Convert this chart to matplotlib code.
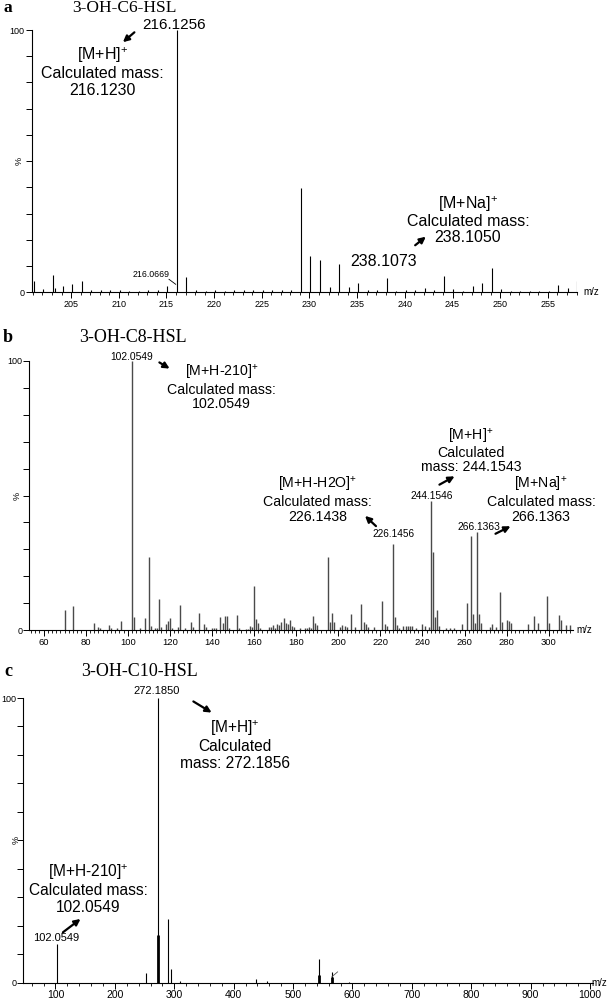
import matplotlib
matplotlib.use("Agg")
import matplotlib.pyplot as plt
from matplotlib.ticker import MultipleLocator, FixedLocator

plt.rcParams['font.family'] = ['Liberation Sans', 'DejaVu Sans']
plt.rcParams['mathtext.fontset'] = 'custom'
plt.rcParams['mathtext.rm'] = 'Liberation Sans'
plt.rcParams['mathtext.it'] = 'Liberation Sans:italic'
plt.rcParams['mathtext.bf'] = 'Liberation Sans:bold'

# ---------------- data ----------------
# Panel a: 3-OH-C6-HSL
a_mz = [201.1, 202.1, 203.1, 203.3, 204.1, 205.1, 206.1, 207.1, 208.1, 209.1, 210.1, 211.1,
        212.1, 213.1, 214.1, 215.1, 216.13, 217.1, 218.1, 219.1, 220.1, 221.1, 222.1, 223.1,
        224.1, 225.1, 226.1, 227.1, 228.1, 229.1, 230.1, 231.1, 232.1, 233.1, 234.1, 235.1,
        236.1, 237.1, 238.1, 239.1, 240.1, 241.1, 242.1, 243.1, 244.1, 245.1, 246.1, 247.1,
        248.1, 249.1, 250.1, 251.1, 252.1, 253.1, 254.1, 255.1, 256.1, 257.1, 258.1]
a_int = [4.1, 1.1, 6.6, 1.5, 2.4, 3.1, 4.1, 0.8, 0.7, 0.8, 0.8, 0.6,
         0.6, 0.8, 0.8, 2.2, 100, 5.7, 0.8, 0.6, 0.8, 0.6, 0.7, 0.8,
         0.8, 0.8, 1.0, 0.7, 0.8, 39.7, 13.7, 12.1, 1.9, 10.7, 1.9, 3.4,
         0.9, 1.0, 5.5, 0.6, 1.0, 0.8, 1.7, 0.8, 6.2, 1.3, 0.6, 2.4,
         3.6, 9.2, 1.3, 0.6, 0.5, 0.6, 0.5, 0.6, 2.7, 1.6, 4.3]

# Panel b: 3-OH-C8-HSL
b_mz = [70, 74, 84, 86, 87, 91, 92, 95, 97, 102.05, 103, 106, 108, 110, 111, 113, 114, 115, 116,
        118, 119, 120, 121, 124, 125, 127, 130, 131, 134, 136, 137, 140, 141, 142, 144, 145,
        146, 147, 148, 152, 153, 156, 157, 158, 159, 160, 161, 162, 163, 167, 168, 169, 170,
        171, 172, 173, 174, 175, 176, 177, 178, 179, 182, 184, 185, 186, 187, 188, 189, 190,
        195, 196, 197, 198, 201, 202, 203, 204, 206, 208, 211, 212, 213, 214, 217, 221, 222,
        223, 226.15, 227, 228, 229, 231, 232, 233, 234, 235, 237, 240, 241, 243, 244.15, 245,
        246, 247, 248, 251, 253, 255, 259, 261, 263, 264, 265, 266.14, 267, 268, 272, 273,
        275, 277, 278, 280, 281, 282, 290, 293, 295, 299, 300, 305, 306, 308, 310]
b_int = [7.4, 8.9, 2.5, 1.0, 0.8, 1.7, 0.9, 0.6, 3.2, 100, 5.0, 0.6, 4.3, 27.3, 1.5, 0.7, 0.7, 11.5, 1.0,
         2.2, 3.5, 4.3, 0.9, 1.2, 9.3, 0.7, 3.1, 1.2, 6.4, 2.2, 1.0, 0.7, 0.7, 0.7, 4.7, 2.7,
         5.2, 5.2, 0.7, 5.6, 0.7, 0.5, 0.5, 1.4, 1.0, 16.5, 4.1, 2.6, 0.7, 1.2, 1.2, 1.7, 0.7,
         2.2, 1.7, 3.1, 4.3, 2.7, 2.1, 3.7, 1.6, 1.1, 0.9, 0.9, 0.8, 1.0, 0.8, 5.3, 2.7, 1.7,
         27.0, 2.8, 6.4, 3.0, 1.2, 1.9, 1.5, 1.2, 5.8, 1.2, 9.7, 3.1, 2.2, 1.2, 1.2, 10.8, 2.2,
         1.5, 32.0, 4.7, 1.9, 0.8, 1.5, 1.5, 1.5, 1.5, 1.5, 0.6, 2.1, 1.5, 1.2, 48.0, 29.1,
         5.0, 7.4, 1.5, 0.7, 0.7, 0.7, 2.2, 10.2, 35.0, 5.9, 2.5, 36.6, 5.8, 2.5, 1.2, 2.2,
         1.2, 14.3, 3.1, 3.7, 3.2, 2.7, 2.2, 5.2, 2.5, 12.6, 2.5, 5.6, 3.7, 1.8, 1.8]

# Panel c: 3-OH-C10-HSL
c_mz = [102.05, 253, 272.19, 289, 294, 310, 438, 456, 543.4, 565.4, 594]
c_int = [13.5, 3.5, 100, 22.5, 4.8, 0.7, 1.4, 0.7, 8.2, 3.8, 0.4]
c_mz_bold = [272.19, 543.4, 565.4]
c_int_bold = [16.8, 2.7, 2.1]

W, H = 614, 999
fig = plt.figure(figsize=(W / 100, H / 100), dpi=100)


def fx(x):
    return x / W


def fy(y):
    return 1 - y / H


def txt(x, y, s, size, **kw):
    kw.setdefault('ha', 'center')
    kw.setdefault('va', 'center')
    kw.setdefault('multialignment', 'center')
    fig.text(fx(x), fy(y), s, fontsize=size, **kw)


def arrow(x0, y0, x1, y1):
    fig.add_artist(matplotlib.patches.FancyArrowPatch(
        (fx(x0), fy(y0)), (fx(x1), fy(y1)), transform=fig.transFigure,
        arrowstyle='-|>', mutation_scale=9, lw=1.6, color='black'))


def line(x0, y0, x1, y1, lw=0.6):
    fig.add_artist(matplotlib.lines.Line2D([fx(x0), fx(x1)], [fy(y0), fy(y1)],
                                           transform=fig.transFigure, lw=lw, color='black'))


def make_axes(left, right, top, bottom, xlim, major, minor, color, mz, inten, lw,
              tick_fs, pct_x, mz_label_x):
    ax = fig.add_axes([fx(left), fy(bottom), fx(right - left), (bottom - top) / H])
    ax.vlines(mz, 0, inten, colors=color, linewidth=lw)
    ax.set_xlim(*xlim)
    ax.set_ylim(0, 100)
    for s in ('top', 'right'):
        ax.spines[s].set_visible(False)
    ax.spines['left'].set_linewidth(0.8)
    ax.spines['bottom'].set_linewidth(0.8)
    ax.xaxis.set_major_locator(MultipleLocator(major))
    ax.xaxis.set_minor_locator(MultipleLocator(minor))
    ax.yaxis.set_major_locator(FixedLocator(list(range(0, 101, 10))))
    ax.set_yticklabels(['0'] + [''] * 9 + ['100'])
    ax.tick_params(axis='x', which='major', length=4, width=0.7, labelsize=tick_fs, pad=1.5)
    ax.tick_params(axis='x', which='minor', length=2.5, width=0.6)
    ax.tick_params(axis='y', which='major', length=4, width=0.7, labelsize=6.5, pad=1)
    ax.patch.set_alpha(0)
    ymid = (top + bottom) / 2
    txt(pct_x, ymid, '%', 6.5, rotation=90)
    txt(mz_label_x, bottom, 'm/z', 7)
    return ax


# ---------------- panel a ----------------
make_axes(31.7, 576.5, 30, 292.2, (200.87, 258.0), 5, 1, 'black', a_mz, a_int, 0.8,
          6.5, 19, 591)
txt(8, 8, 'a', 12.5, family='Liberation Serif', weight='bold')
txt(124.5, 8, '3-OH-C6-HSL', 12.5, family='Liberation Serif')
fs_a = 11.5
txt(174.5, 25, '216.1256', 11)
arrow(136.5, 30.5, 120.8, 44)
txt(102.3, 71.5, '[M+H]$^{+}$\nCalculated mass:\n216.1230', fs_a, linespacing=1.12)
txt(151.2, 274.3, '216.0669', 6.3)
line(169, 279.3, 175.7, 284.3)
txt(383.5, 261.7, '238.1073', fs_a)
txt(468, 219.5, '[M+Na]$^{+}$\nCalculated mass:\n238.1050', fs_a, linespacing=1.05)
arrow(413, 247, 428, 235)

# ---------------- panel b ----------------
make_axes(29.3, 572.5, 361, 630, (53.2, 311.3), 20, 2, '#4a4a4a', b_mz, b_int, 1.0,
          6.8, 17.6, 584)
txt(8, 337, 'b', 13, family='Liberation Serif', weight='bold')
txt(133, 337, '3-OH-C8-HSL', 13, family='Liberation Serif')
fs_b = 10.2
txt(131.5, 356.7, '102.0549', 7.4)
arrow(157, 361, 172, 370)
txt(221.6, 387, '[M+H-210]$^{+}$\nCalculated mass:\n102.0549', fs_b, linespacing=1.05)
txt(471, 451, '[M+H]$^{+}$\nCalculated\nmass: 244.1543', fs_b, linespacing=1.0)
arrow(437, 486, 457, 475)
txt(317.6, 499.5, '[M+H-H2O]$^{+}$\nCalculated mass:\n226.1438', fs_b, linespacing=1.05)
arrow(378, 528, 363, 514)
txt(393.5, 534, '226.1456', 7.2)
txt(432, 496, '244.1546', 7.4)
txt(541, 499.5, '[M+Na]$^{+}$\nCalculated mass:\n266.1363', fs_b, linespacing=1.05)
txt(478.5, 526.7, '266.1363', 7.4)
arrow(493, 535, 513, 525)

# ---------------- panel c ----------------
axc = make_axes(23.3, 593, 698, 982.7, (45.8, 1005), 100, 20, 'black', c_mz, c_int, 0.8,
                7.5, 15.7, 599)
axc.vlines(c_mz_bold, 0, c_int_bold, colors='black', linewidth=2.0)
axc.plot([565.4, 575], [2.1, 3.8], color='#555555', lw=0.6)
txt(8, 672, 'c', 13, family='Liberation Serif', weight='bold')
txt(139, 672, '3-OH-C10-HSL', 13, family='Liberation Serif')
fs_c = 11.2
txt(157, 691, '272.1850', 8)
arrow(191, 700, 214, 714)
txt(235, 744.5, '[M+H]$^{+}$\nCalculated\nmass: 272.1856', fs_c, linespacing=1.1)
txt(88.2, 888.5, '[M+H-210]$^{+}$\nCalculated mass:\n102.0549', fs_c, linespacing=1.1)
arrow(60.7, 934, 82.7, 917.3)
txt(56, 938.3, '102.0549', 8)

fig.savefig('out.png', dpi=100)
